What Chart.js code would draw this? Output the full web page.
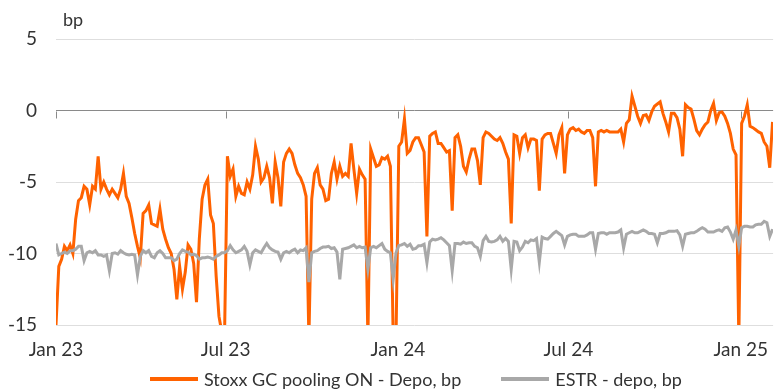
<!DOCTYPE html>
<html>
<head>
<meta charset="utf-8">
<script src="https://cdn.jsdelivr.net/npm/chart.js@4.4.1/dist/chart.umd.min.js"></script>
<style>
  html, body { margin: 0; padding: 0; background: #fff; }
  #wrap { position: relative; width: 781px; height: 389px; }
  canvas { display: block; }
  .legend { position: absolute; top: 369px; left: 150px; display: flex; align-items: center;
            font-family: Lato, "Open Sans", sans-serif; font-size: 18px; color: #333; white-space: nowrap; line-height: 20px; }
  .legend .item { display: flex; align-items: center; }
  .legend .swatch { width: 48px; height: 4px; margin-right: 6px; }
  .legend .item + .item { margin-left: 40px; }
</style>
</head>
<body>
<div id="wrap">
  <canvas id="chart" width="781" height="389"></canvas>
  <div class="legend" id="legend"></div>
</div>
<script>
// Series are sampled every 3 calendar days starting 1 Jan 2023 (day 0)
const startDate = '2023-01-01';
const stepDays = 3;

// Axis ticks (days since start) and their labels
const tickDays = [0, 181, 365, 547, 731];
const tickLabels = ['Jan 23', 'Jul 23', 'Jan 24', 'Jul 24', 'Jan 25'];
const yTicks = [5, 0, -5, -10, -15];

const seriesNames = ['Stoxx GC pooling ON - Depo, bp', 'ESTR - depo, bp'];
const seriesColors = ['#ff6200', '#a8a8a8'];

// Stoxx GC pooling ON minus deposit rate, bp
const gcPooling = [
  -15, -10.9, -10.4, -9.5, -9.8, -9.4, -10.0, -7.6, -6.3, -6.1,
  -5.3, -5.5, -6.6, -5.3, -5.5, -3.2, -5.5, -5.0, -5.5, -5.9,
  -5.5, -5.8, -6.1, -5.5, -4.4, -6.0, -6.5, -7.5, -8.6, -9.5,
  -10.3, -7.2, -7.0, -6.6, -7.9, -8.0, -8.1, -6.9, -8.3, -9.0,
  -9.6, -10.0, -11.1, -13.2, -10.9, -12.5, -11.3, -9.4, -9.7, -10.7,
  -13.4, -9.0, -6.2, -5.2, -4.8, -7.3, -7.9, -11.6, -14.4, -15.5,
  -15.5, -3.2, -4.6, -4.1, -6.0, -5.3, -5.8, -5.9, -5.0, -5.5,
  -4.5, -2.5, -3.4, -5.0, -4.7, -3.9, -4.7, -6.5, -3.6, -4.7,
  -6.7, -3.6, -3.0, -2.7, -3.0, -3.8, -4.4, -4.7, -5.2, -6.0,
  -16, -6.2, -4.4, -4.0, -5.2, -5.5, -6.3, -6.2, -4.4, -3.6,
  -4.8, -3.9, -4.6, -4.4, -4.6, -2.3, -4.1, -5.8, -4.1, -4.5,
  -4.8, -16, -2.7, -3.3, -3.9, -3.8, -3.3, -3.4, -3.2, -3.9,
  -16, -16, -2.5, -2.2, -0.6, -3.0, -2.8, -2.2, -1.9, -1.9,
  -2.4, -2.9, -8.8, -1.8, -1.6, -1.5, -2.3, -2.3, -2.6, -2.9,
  -2.8, -7.0, -1.9, -1.7, -2.5, -3.9, -4.3, -3.4, -2.7, -2.7,
  -3.5, -5.2, -1.9, -1.5, -1.6, -1.8, -2.0, -2.1, -1.9, -2.3,
  -2.9, -3.4, -7.9, -1.7, -1.8, -3.0, -1.9, -1.7, -2.6, -2.0,
  -2.0, -2.1, -5.6, -2.0, -1.7, -1.6, -1.6, -2.3, -3.0, -1.7,
  -1.2, -4.4, -1.7, -1.3, -1.2, -1.4, -1.3, -1.5, -1.6, -1.4,
  -1.4, -1.9, -5.3, -1.5, -1.4, -1.5, -1.4, -1.5, -1.5, -1.5,
  -1.5, -1.3, -2.2, -0.9, -0.65, 1.0, 0.3, -0.4, -0.9, -0.35,
  -0.3, -0.7, -0.1, 0.3, 0.45, 0.6, -0.2, -0.8, -1.5, -0.2,
  -0.2, -0.5, -1.3, -3.2, 0.4, 0.2, 0.1, -0.6, -1.4, -1.7,
  -1.3, -1.0, -0.8, 0.0, 0.5, -0.7, -0.15, -0.1, -0.4, -0.9,
  -1.6, -2.7, -3.1, -16, -0.9, -0.4, 0.4, -1.1, -1.2, -1.35,
  -1.5, -1.6, -2.2, -2.5, -4.0, -0.8
];

// ESTR minus deposit rate, bp
const estr = [
  -9.3, -10.1, -10.0, -9.9, -10.0, -9.8, -9.8, -9.7, -9.5, -9.5,
  -10.5, -9.95, -9.85, -9.95, -9.8, -10.1, -10.1, -10.2, -10.1, -11.2,
  -10.0, -9.95, -10.05, -9.8, -9.95, -10.05, -10.1, -10.05, -10.1, -11.5,
  -10.2, -9.8, -9.95, -9.8, -10.2, -10.3, -9.95, -9.8, -10.0, -10.3,
  -10.3, -10.3, -10.5, -10.4, -10.0, -9.75, -9.85, -9.9, -10.1, -10.05,
  -10.15, -10.4, -10.3, -10.3, -10.25, -10.3, -10.4, -10.2, -10.1, -9.95,
  -9.95, -9.8, -9.45, -9.75, -9.95, -9.85, -9.75, -9.5, -9.85, -10.8,
  -9.95, -9.75, -9.85, -9.95, -9.6, -9.3, -9.6, -9.75, -9.85, -9.9,
  -10.4, -9.95, -9.85, -9.95, -9.8, -9.7, -9.95, -9.75, -9.8, -9.6,
  -12.0, -9.95, -9.85, -9.8, -9.65, -9.55, -9.55, -9.5, -9.65, -9.6,
  -9.9, -11.8, -9.7, -9.65, -9.6, -9.5, -9.4, -9.6, -9.5, -9.6,
  -9.55, -11.1, -9.6, -9.5, -9.6, -9.45, -9.3, -9.7, -9.85, -9.95,
  -11.8, -9.95, -9.45, -9.4, -9.3, -9.5, -9.35, -9.7, -9.65, -9.45,
  -9.45, -9.35, -10.65, -9.2, -9.0, -9.05, -9.0, -8.9, -9.05, -9.25,
  -9.45, -11.2, -9.3, -9.3, -9.35, -9.2, -9.3, -9.25, -9.25, -9.5,
  -9.6, -10.2, -9.1, -8.8, -9.15, -9.2, -9.15, -9.05, -8.8, -9.15,
  -8.95, -9.15, -11.1, -9.15, -9.2, -9.8, -9.55, -9.15, -9.25, -9.05,
  -9.1, -8.95, -10.6, -8.85, -8.95, -9.0, -8.8, -8.6, -8.45, -8.6,
  -8.75, -9.4, -8.8, -8.7, -8.65, -8.65, -8.8, -8.8, -8.8, -8.7,
  -8.55, -8.55, -9.7, -8.6, -8.55, -8.55, -8.65, -8.55, -8.55, -8.55,
  -8.5, -8.35, -9.6, -8.65, -8.55, -8.45, -8.55, -8.55, -8.45, -8.35,
  -8.45, -8.6, -8.6, -8.65, -9.25, -8.6, -8.6, -8.55, -8.45, -8.45,
  -8.45, -8.4, -8.7, -9.5, -8.65, -8.6, -8.55, -8.55, -8.45, -8.3,
  -8.2, -8.3, -8.5, -8.5, -8.5, -8.4, -8.35, -8.45, -8.2, -8.15,
  -8.5, -9.0, -8.35, -9.5, -8.2, -8.1, -8.1, -8.15, -8.15, -8.0,
  -7.95, -7.95, -7.75, -7.85, -8.8, -8.3
];

const dayOffsets = gcPooling.map((_, i) => i * stepDays);
const toPoints = vals => vals.map((v, i) => ({ x: dayOffsets[i], y: v }));

const textColor = '#333333';
const fontFamily = 'Lato, "Open Sans", sans-serif';

// Zero line tick marks and the unit label
const axisMarks = {
  id: 'axisMarks',
  beforeDatasetsDraw(chart) {
    const { ctx, scales: { x, y } } = chart;
    const y0 = Math.round(y.getPixelForValue(0)) + 0.5;
    ctx.save();
    ctx.strokeStyle = '#8a8a8a';
    ctx.lineWidth = 1;
    tickDays.forEach(d => {
      const px = Math.round(x.getPixelForValue(d)) + 0.5;
      ctx.beginPath();
      ctx.moveTo(px, y0);
      ctx.lineTo(px, y0 + 7);
      ctx.stroke();
    });
    ctx.restore();
  },
  afterDraw(chart) {
    const { ctx, chartArea } = chart;
    ctx.save();
    ctx.fillStyle = textColor;
    ctx.font = '18px ' + fontFamily;
    ctx.textBaseline = 'alphabetic';
    ctx.fillText('bp', chartArea.left + 7, 26);
    ctx.restore();
  }
};

new Chart(document.getElementById('chart'), {
  type: 'line',
  data: {
    datasets: [
      { label: seriesNames[0], data: toPoints(gcPooling), borderColor: seriesColors[0],
        backgroundColor: seriesColors[0], borderWidth: 3, pointRadius: 0, tension: 0, order: 1 },
      { label: seriesNames[1], data: toPoints(estr), borderColor: seriesColors[1],
        backgroundColor: seriesColors[1], borderWidth: 3, pointRadius: 0, tension: 0, order: 0 }
    ]
  },
  options: {
    responsive: false,
    animation: false,
    devicePixelRatio: 1,
    layout: { padding: { top: 39, left: 0, right: 0, bottom: 0 } },
    plugins: { legend: { display: false }, tooltip: { enabled: false } },
    scales: {
      x: {
        type: 'linear', min: 0, max: 765.6,
        border: { display: false },
        grid: { display: false, drawTicks: false },
        afterBuildTicks: s => { s.ticks = tickDays.map(v => ({ value: v })); },
        ticks: { autoSkip: false, maxRotation: 0, padding: 13, color: textColor,
                 font: { family: fontFamily, size: 19 },
                 callback: (v, i) => tickLabels[i] },
        afterFit: s => { s.height = 64; }
      },
      y: {
        min: -15, max: 5,
        border: { display: false },
        afterBuildTicks: s => { s.ticks = yTicks.map(v => ({ value: v })); },
        grid: { drawTicks: false, lineWidth: 1,
                color: c => (c.tick && c.tick.value === 0) ? '#8a8a8a' : '#dedede' },
        ticks: { padding: 19, color: textColor, font: { family: fontFamily, size: 19 } },
        afterFit: s => { s.width = 56; }
      }
    }
  },
  plugins: [axisMarks]
});

// Legend
const legend = document.getElementById('legend');
seriesNames.forEach((name, i) => {
  const item = document.createElement('div');
  item.className = 'item';
  const sw = document.createElement('span');
  sw.className = 'swatch';
  sw.style.background = seriesColors[i];
  const label = document.createElement('span');
  label.textContent = name;
  item.appendChild(sw);
  item.appendChild(label);
  legend.appendChild(item);
});
</script>
</body>
</html>
